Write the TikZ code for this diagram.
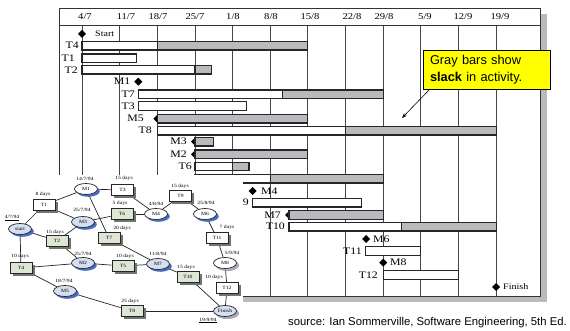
\documentclass[tikz,border=0pt]{standalone}
\usepackage{fontspec}
\setmainfont[FakeStretch=1.18]{Liberation Serif}
\newfontfamily\sansf{Liberation Sans}
\usetikzlibrary{shapes.geometric,shadows,arrows.meta,calc}
\pgfdeclarelayer{edgelayer}
\pgfdeclarelayer{nodelayer}
\pgfsetlayers{main,edgelayer,nodelayer}
\definecolor{slackgray}{RGB}{186,186,190}
\definecolor{chartshadow}{RGB}{185,185,190}
\definecolor{calloutyellow}{RGB}{255,255,0}
\definecolor{critblue}{RGB}{214,223,240}
\definecolor{critgreen}{RGB}{222,230,214}
\definecolor{shblue}{RGB}{72,108,198}
\definecolor{shgray}{RGB}{110,118,112}
\definecolor{shlight}{RGB}{172,172,178}
\newcommand\netfont{\fontsize{4.8}{5.5}\selectfont}
\newcommand\gwbar[3]{\filldraw[barline,fill=white] (#2,#1-4.3) rectangle (#3,#1+4.3);}
\newcommand\gsbar[3]{\filldraw[barline,fill=slackgray] (#2,#1-4.3) rectangle (#3,#1+4.3);}
\newcommand\gmile[2]{\fill[black] (#1-4,#2) -- (#1,#2-4) -- (#1+4,#2) -- (#1,#2+4) -- cycle;}
\tikzset{
  chartframe/.style={draw=black!80, line width=1pt},
  gridline/.style={draw=black!72, line width=0.9pt},
  barline/.style={draw=black!85, line width=1.1pt},
  datelab/.style={font=\fontsize{9}{10}\selectfont, inner sep=0pt},
  rowlab/.style={font=\fontsize{10}{11}\selectfont, inner sep=0pt, anchor=east},
  rowlabr/.style={font=\fontsize{10}{11}\selectfont, inner sep=0pt, anchor=west},
  endlab/.style={font=\fontsize{8.5}{10}\selectfont, inner sep=0pt, anchor=west},
  callout/.style={draw=black, line width=0.8pt, fill=calloutyellow, minimum width=127pt,
    minimum height=39pt, text width=113pt, inner xsep=7pt, inner ysep=0pt, align=left,
    font=\sansf\fontsize{12.8}{16.5}\selectfont},
  mnode/.style={ellipse, draw=black!85, line width=0.7pt, minimum width=23pt, minimum height=11pt,
    inner sep=0pt, fill=white, font=\netfont,
    drop shadow={shadow xshift=2.3pt, shadow yshift=-2.3pt, fill=shblue, opacity=1}},
  mnodec/.style={mnode, fill=critblue},
  mnodeg/.style={mnode, drop shadow={shadow xshift=2.3pt, shadow yshift=-2.3pt, fill=shlight, opacity=1}},
  mnodecg/.style={mnodeg, fill=critblue},
  tnode/.style={rectangle, draw=black!85, line width=0.7pt, minimum width=22pt, minimum height=10.5pt,
    inner sep=0pt, fill=white, font=\netfont,
    drop shadow={shadow xshift=2.6pt, shadow yshift=-2.6pt, fill=shgray, opacity=1}},
  tnodec/.style={tnode, fill=critgreen},
  netlab/.style={font=\netfont, inner sep=0pt},
  netedge/.style={draw=black!85, line width=0.7pt},
}
\begin{document}
\begin{tikzpicture}[x=1pt,y=-1pt]
\useasboundingbox (0,0) rectangle (570,331);
% ---- chart frame and shadow
\fill[chartshadow] (540,14) rectangle (547,302);
\fill[chartshadow] (64,296) rectangle (547,302);
\filldraw[chartframe, fill=white] (59,9) rectangle (540,296);
\draw[chartframe] (59,26) -- (540,26);
\foreach \x in {82,119.65,157.3,194.95,232.6,270.25,307.9,345.55,383.2,420.85,458.5,496.15}
  \draw[gridline] (\x,26) -- (\x,296);
% ---- header dates
\node[datelab] (h1) at (85,16.5) {4/7};
\node[datelab] (h2) at (126,16.5) {11/7};
\node[datelab] (h3) at (158,16.5) {18/7};
\node[datelab] (h4) at (195,16.5) {25/7};
\node[datelab] (h5) at (233,16.5) {1/8};
\node[datelab] (h6) at (271,16.5) {8/8};
\node[datelab] (h7) at (310,16.5) {15/8};
\node[datelab] (h8) at (352,16.5) {22/8};
\node[datelab] (h9) at (384,16.5) {29/8};
\node[datelab] (h10) at (425,16.5) {5/9};
\node[datelab] (h11) at (463,16.5) {12/9};
\node[datelab] (h12) at (500,16.5) {19/9};
% ---- rows
\gmile{82}{34}
\node[endlab] (lStart) at (95,34) {Start};
\gwbar{45.7}{82}{157.3}\gsbar{45.7}{157.3}{307.9}
\node[rowlab] (lT4) at (79,45.7) {T4};
\gwbar{58.3}{82}{136.7}
\node[rowlab] (lT1) at (75,58.3) {T1};
\gwbar{69.7}{82}{194.95}\gsbar{69.7}{194.95}{211.7}
\node[rowlab] (lT2) at (78,69.7) {T2};
\gmile{138.3}{81.7}
\node[rowlab] (lM1) at (130.5,81.7) {M1};
\gwbar{94.3}{138.3}{282.3}\gsbar{94.3}{282.3}{383.2}
\node[rowlab] (lT7) at (135,94.3) {T7};
\gwbar{106}{138.3}{246.7}
\node[rowlab] (lT3) at (135,106) {T3};
\gmile{157.3}{118.7}\gsbar{118.7}{157.3}{307.9}
\node[rowlab] (lM5) at (144,118.7) {M5};
\gwbar{130.7}{157.3}{345.55}\gsbar{130.7}{345.55}{496.15}
\node[rowlab] (lT8) at (152,130.7) {T8};
\gmile{194.95}{141.7}\gsbar{141.7}{194.95}{213.3}
\node[rowlab] (lM3) at (187,141.7) {M3};
\gmile{194.95}{154.3}\gsbar{154.3}{194.95}{307.9}
\node[rowlab] (lM2) at (187,154.3) {M2};
\gwbar{166.5}{194.95}{232.6}\gsbar{166.5}{232.6}{249}
\node[rowlab] (lT6) at (192,166.5) {T6};
\gwbar{178.7}{194.95}{270.25}\gsbar{178.7}{270.25}{383.2}
\gmile{252.7}{191}
\node[rowlabr] (lM4) at (261,191) {M4};
\gwbar{202.7}{252.7}{361.7}
\node[rowlab] (lT9) at (249,202.7) {9};
\gmile{289}{215}\gsbar{215}{289}{383.2}
\node[rowlab] (lM7) at (281,215) {M7};
\gwbar{226.7}{289}{401.7}\gsbar{226.7}{401.7}{496.15}
\node[rowlab] (lT10) at (285,226.7) {T10};
\gmile{366}{239}
\node[rowlabr] (lM6) at (373,239) {M6};
\gwbar{251}{365.7}{420.85}
\node[rowlab] (lT11) at (362,251) {T11};
\gmile{383.2}{262.7}
\node[rowlabr] (lM8) at (390,262.7) {M8};
\gwbar{275}{383.2}{458.5}
\node[rowlab] (lT12) at (378,275) {T12};
\gmile{496.15}{287}
\node[endlab] (lFinish) at (503,287) {Finish};
% ---- callout
\node[callout] (cb) at (486.5,69.5) {Gray bars show\\\textbf{slack} in activity.};
\coordinate (slacktip) at (402,118);
\draw[-{Stealth[length=5pt,width=3.6pt]}, line width=0.6pt] ($(cb.south west)+(7,0)$) -- (slacktip);
% ---- network inset
\fill[white] (0,175) rectangle (243,331);
\begin{pgfonlayer}{nodelayer}
\node[mnodec] (start) at (20,229) {start};
\node[tnode] (T1) at (44,205) {T1};
\node[mnode] (M1) at (86,189) {M1};
\node[tnode] (T3) at (122.5,190) {T3};
\node[mnodec] (M3) at (83,222) {M3};
\node[tnodec] (T6) at (122,214) {T6};
\node[tnodec] (T7) at (109,238) {T7};
\node[tnodec] (T2) at (57,241) {T2};
\node[tnodec] (T4) at (21,268) {T4};
\node[mnodec] (M2) at (83,263) {M2};
\node[tnodec] (T5) at (123,266) {T5};
\node[mnodec] (M5) at (65,291) {M5};
\node[tnodec] (T8) at (132,311) {T8};
\node[mnode] (M4) at (156,214) {M4};
\node[tnode] (T9) at (180.5,196) {T9};
\node[mnode] (M6) at (205,214) {M6};
\node[tnode] (T11) at (217,238) {T11};
\node[mnodeg] (M8) at (225,263) {M8};
\node[tnode] (T12) at (227,288) {T12};
\node[mnodec] (M7) at (158,264) {M7};
\node[tnodec] (T10) at (188,277) {T10};
\node[mnodecg] (Fin) at (225,311) {Finish};
% labels
\node[netlab] (d1) at (12,218) {\underline{4/7/94}};
\node[netlab] (d2) at (43,194) {8 days};
\node[netlab] (d3) at (85,179) {14/7/94};
\node[netlab] (d4) at (124,178.5) {15 days};
\node[netlab] (d5) at (82,209.5) {25/7/94};
\node[netlab] (d6) at (120,203) {5 days};
\node[netlab] (d7) at (122,228) {20 days};
\node[netlab] (d8) at (55,232) {15 days};
\node[netlab] (d9) at (20,256.5) {10 days};
\node[netlab] (d10) at (83,254) {25/7/94};
\node[netlab] (d11) at (125,256) {10 days};
\node[netlab] (d12) at (64,281) {18/7/94};
\node[netlab] (d13) at (130,301) {25 days};
\node[netlab] (d14) at (156,204) {4/8/94};
\node[netlab] (d15) at (180,186) {15 days};
\node[netlab] (d16) at (206,203) {25/8/94};
\node[netlab] (d17) at (227,227) {7 days};
\node[netlab] (d18) at (232,253) {5/9/94};
\node[netlab] (d19) at (214,277) {10 days};
\node[netlab] (d20) at (158,253.5) {11/8/94};
\node[netlab] (d21) at (186,267) {15 days};
\node[netlab] (d22) at (208,320.5) {\underline{19/9/94}};
\end{pgfonlayer}
\begin{pgfonlayer}{edgelayer}
\draw[netedge] (start) -- (T1);
\draw[netedge] (start) -- (T2);
\draw[netedge] (start) -- (T4);
\draw[netedge] (T1) -- (M1);
\draw[netedge] (T1) -- (M3);
\draw[netedge] (T2) -- (M3);
\draw[netedge] (T2) -- (M2);
\draw[netedge] (T4) -- (M2);
\draw[netedge] (T4) -- (M5);
\draw[netedge] (M1) -- (T3);
\draw[netedge] (M1) -- (T7);
\draw[netedge] (M3) -- (T6);
\draw[netedge] (T3) -- (M4);
\draw[netedge] (T6) -- (M4);
\draw[netedge] (M4) -- (T9);
\draw[netedge] (T9) -- (M6);
\draw[netedge] (M6) -- (T11);
\draw[netedge] (T11) -- (M8);
\draw[netedge] (M8) -- (T12);
\draw[netedge] (T12) -- (Fin);
\draw[netedge] (M2) -- (T5);
\draw[netedge] (T5) -- (M7);
\draw[netedge] (T7) -- (M7);
\draw[netedge] (M7) -- (T10);
\draw[netedge] (T10) -- (Fin);
\draw[netedge] (M5) -- (T8);
\draw[netedge] (T8) -- (Fin);
\end{pgfonlayer}
% ---- source
\node[font=\sansf\fontsize{11.3}{13}\selectfont, anchor=east, inner sep=0pt] (src) at (567,323)
  {source: Ian Sommerville, Software Engineering, 5th Ed.};
\end{tikzpicture}
\end{document}
